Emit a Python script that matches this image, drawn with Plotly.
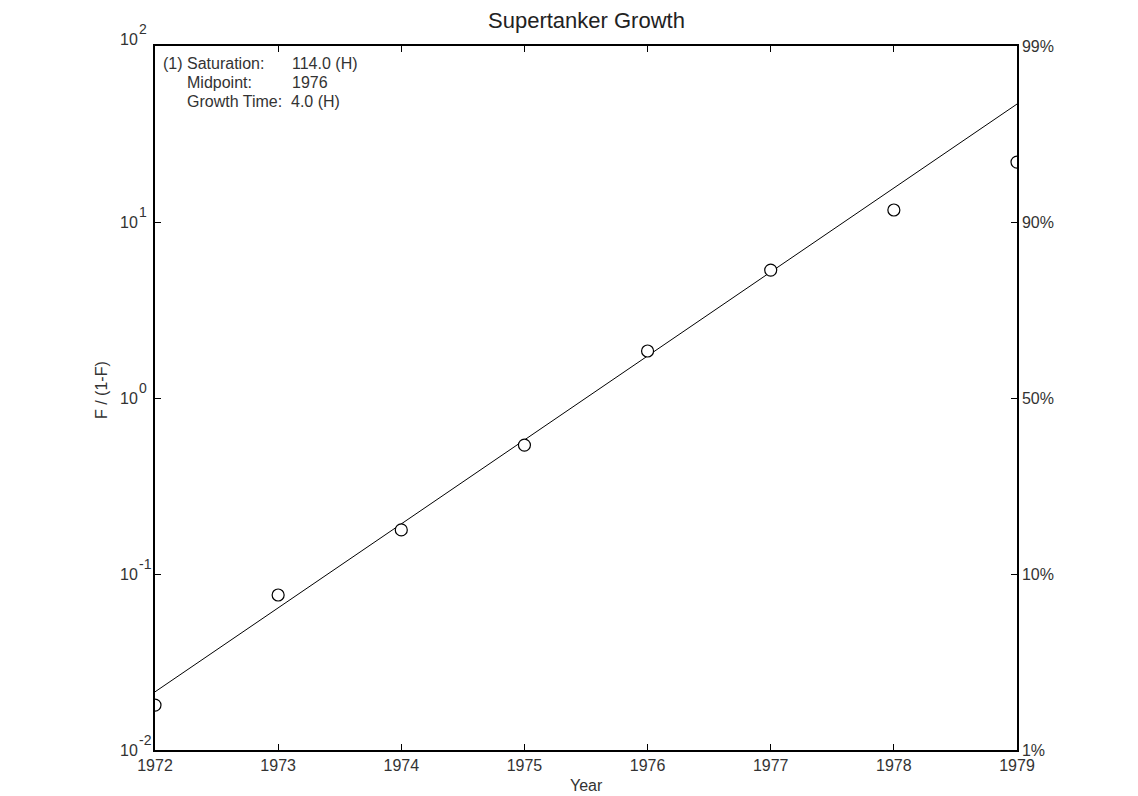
import plotly.graph_objects as go

years = [1972, 1973, 1974, 1975, 1976, 1977, 1978, 1979]
ratio = [0.018, 0.076, 0.178, 0.54, 1.85, 5.33, 11.7, 21.9]

fit_years = [1972, 1979]
fit_ratio = [0.0214, 46.8]

left_tickvals = [0.01, 0.1, 1, 10, 100]
left_exps = ["-2", "-1", "0", "1", "2"]
right_ticktext = ["1%", "10%", "50%", "90%", "99%"]
x_ticks = [1972, 1973, 1974, 1975, 1976, 1977, 1978, 1979]

FONT = "Liberation Sans, Arial, sans-serif"
TXT = "#333333"

# page offset (browser body margin) is 8px
OFF = 8
PL, PR, PT, PB = 155, 1017, 46, 750  # plot area in page coords
W, H = 1138 - OFF, 796 - OFF


def px(x):
    return (x - PL) / (PR - PL)


def py(y):
    return 1 - (y - PT) / (PB - PT)


fig = go.Figure()
fig.add_trace(go.Scatter(x=fit_years, y=fit_ratio, mode="lines",
                         line=dict(color="black", width=1), showlegend=False))
fig.add_trace(go.Scatter(x=years, y=ratio, mode="markers",
                         marker=dict(symbol="circle", size=12, color="white",
                                     line=dict(color="black", width=1.2)),
                         showlegend=False))
fig.add_trace(go.Scatter(x=[years[0]], y=[ratio[0]], yaxis="y2", mode="markers",
                         marker=dict(opacity=0), showlegend=False, hoverinfo="skip"))

fig.update_layout(
    width=W, height=H,
    margin=dict(l=PL - OFF, r=W - (PR - OFF), t=PT - OFF, b=H - (PB - OFF)),
    paper_bgcolor="white", plot_bgcolor="white",
    font=dict(family=FONT, size=16, color=TXT),
    xaxis=dict(range=[1972, 1979], tickvals=x_ticks, ticktext=[str(v) for v in x_ticks],
               ticks="inside", ticklen=6, tickcolor="black", showline=True, linecolor="black",
               linewidth=1.5, mirror="ticks", showgrid=False, zeroline=False,
               tickfont=dict(size=16, color=TXT)),
    yaxis=dict(type="log", range=[-2, 2], tickvals=left_tickvals, showticklabels=False,
               ticks="inside", ticklen=6, tickcolor="black", showline=True, linecolor="black",
               linewidth=1.5, showgrid=False, zeroline=False),
    yaxis2=dict(type="log", range=[-2, 2], overlaying="y", side="right",
                tickvals=left_tickvals, ticktext=right_ticktext,
                ticks="inside", ticklen=6, tickcolor="black", showline=True, linecolor="black",
                linewidth=1.5, showgrid=False, zeroline=False,
                tickfont=dict(size=16, color=TXT)),
)

# left tick labels: 10 with exponent
for v, e in zip(left_tickvals, left_exps):
    import math
    lv = math.log10(v)
    extra = 7 if lv == 2 else 0
    fig.add_annotation(text="10", xref="paper", yref="y", x=px(139.5), y=lv,
                       xanchor="right", yanchor="middle", yshift=extra, showarrow=False,
                       font=dict(size=16, color=TXT))
    fig.add_annotation(text=e, xref="paper", yref="y", x=px(137), y=lv,
                       xanchor="left", yanchor="middle", yshift=extra + 10, showarrow=False,
                       font=dict(size=14, color=TXT))

# title, axis titles
fig.add_annotation(text="Supertanker Growth", xref="paper", yref="paper",
                   x=px(586), y=py(20.5), xanchor="center", yanchor="middle",
                   showarrow=False, font=dict(size=22, color="#222222"))
fig.add_annotation(text="Year", xref="paper", yref="paper",
                   x=px(586), y=py(786), xanchor="center", yanchor="middle",
                   showarrow=False, font=dict(size=16, color=TXT))
fig.add_annotation(text="F / (1-F)", xref="paper", yref="paper", textangle=-90,
                   x=px(101), y=py(390), xanchor="center", yanchor="middle",
                   showarrow=False, font=dict(size=16, color=TXT))

rows = [
    ("(1) Saturation:", 161, "114.0 (H)", 290, 63),
    ("Midpoint:", 185, "1976", 290, 82),
    ("Growth Time:", 185, "4.0 (H)", 289, 101),
]
for label, lx, val, vx, yy in rows:
    fig.add_annotation(text=label, xref="paper", yref="paper",
                       x=px(lx), y=py(yy), xanchor="left", yanchor="middle",
                       showarrow=False, font=dict(size=16, color=TXT))
    fig.add_annotation(text=val, xref="paper", yref="paper",
                       x=px(vx), y=py(yy), xanchor="left", yanchor="middle",
                       showarrow=False, font=dict(size=16, color=TXT))

fig.write_html("out.html")
